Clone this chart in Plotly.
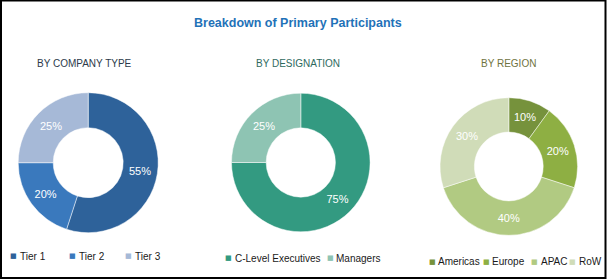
import plotly.graph_objects as go

W, H = 607, 280

title_text = "Breakdown of Primary Participants"

company_title = "BY COMPANY TYPE"
company_labels = ["Tier 1", "Tier 2", "Tier 3"]
company_values = [55, 20, 25]

designation_title = "BY DESIGNATION"
designation_labels = ["C-Level Executives", "Managers"]
designation_values = [75, 25]

region_title = "BY REGION"
region_labels = ["Americas", "Europe", "APAC", "RoW"]
region_values = [10, 20, 40, 30]

# ---- styling ----
company_colors = ["#2E629A", "#3A79BD", "#A6B9D7"]
designation_colors = ["#339A81", "#8EC4B3"]
region_colors = ["#76923C", "#8EAF43", "#B1CA82", "#D0DCB8"]

FONT = "Liberation Sans, Arial, sans-serif"

# pie geometry (center x, center y, radius) in pixels
pies = [
    dict(labels=company_labels, values=company_values, colors=company_colors, cx=88.2, cy=162.7, r=70,
         title=company_title, tcx=84.5, tcolor="#2B3A4A",
         leg_y=256, leg_x=[13.5, 72.5, 128.5]),
    dict(labels=designation_labels, values=designation_values, colors=designation_colors, cx=300.8, cy=162.5, r=69.3,
         title=designation_title, tcx=298, tcolor="#2E6A5E",
         leg_y=258, leg_x=[228.5, 330]),
    dict(labels=region_labels, values=region_values, colors=region_colors, cx=508.8, cy=166.5, r=68.8,
         title=region_title, tcx=508, tcolor="#6F7340",
         leg_y=261.5, leg_x=[432, 486.5, 534.5, 572.5]),
]

fig = go.Figure()
annotations = []

for p in pies:
    x0 = (p["cx"] - p["r"]) / W
    x1 = (p["cx"] + p["r"]) / W
    y0 = (H - (p["cy"] + p["r"])) / H
    y1 = (H - (p["cy"] - p["r"])) / H
    fig.add_trace(go.Pie(
        labels=p["labels"], values=p["values"],
        marker=dict(colors=p["colors"], line=dict(color="rgba(255,255,255,0.6)", width=0.8)),
        hole=0.5, sort=False, direction="clockwise", rotation=0,
        texttemplate="%{value}%", textposition="inside",
        insidetextorientation="horizontal",
        textfont=dict(family=FONT, size=11, color="white"),
        domain=dict(x=[x0, x1], y=[y0, y1]),
        showlegend=False,
    ))
    annotations.append(dict(
        text=p["title"], x=p["tcx"] / W, y=(H - 63.5) / H, xref="paper", yref="paper",
        xanchor="center", yanchor="middle", showarrow=False,
        font=dict(family=FONT, size=10, color=p["tcolor"]),
    ))
    for lab, col, lx in zip(p["labels"], p["colors"], p["leg_x"]):
        annotations.append(dict(
            text="■", x=lx / W, y=(H - p["leg_y"]) / H, xref="paper", yref="paper",
            xanchor="center", yanchor="middle", showarrow=False,
            font=dict(family="DejaVu Sans", size=7, color=col),
        ))
        annotations.append(dict(
            text=lab, x=(lx + 4) / W, y=(H - p["leg_y"]) / H, xref="paper", yref="paper",
            xanchor="left", yanchor="middle", showarrow=False,
            font=dict(family=FONT, size=10, color="#1A1A1A"),
        ))

annotations.append(dict(
    text="<b>" + title_text + "</b>", x=297.5 / W, y=(H - 23) / H, xref="paper", yref="paper",
    xanchor="center", yanchor="middle", showarrow=False,
    font=dict(family="Liberation Sans, Arial, sans-serif", size=12.5, color="#1F72B8"),
))

fig.update_layout(
    width=W, height=H, margin=dict(l=0, r=0, t=0, b=0),
    paper_bgcolor="white", plot_bgcolor="white",
    annotations=annotations,
    shapes=[dict(type="rect", xref="paper", yref="paper",
                 x0=1 / W, x1=605.5 / W, y0=(H - 278) / H, y1=(H - 0.5) / H,
                 line=dict(color="black", width=2), fillcolor="rgba(0,0,0,0)")],
)

fig.write_html("out.html")
